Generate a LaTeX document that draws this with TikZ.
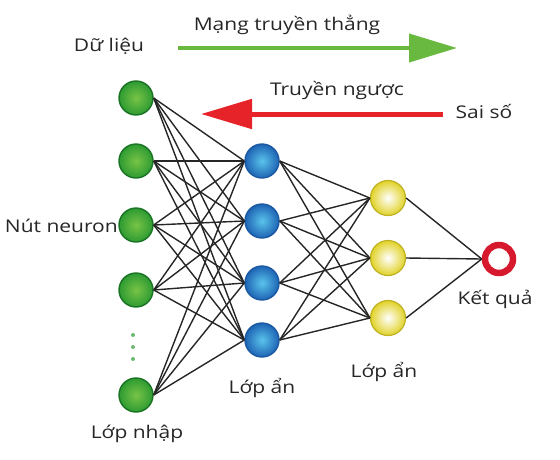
\documentclass[tikz,border=0pt]{standalone}
\usepackage{fontspec}
\setmainfont{Open Sans}[FakeStretch=1.2]
\usetikzlibrary{arrows.meta}
\definecolor{gdark}{RGB}{25,115,35}
\definecolor{gmid}{RGB}{45,155,50}
\definecolor{glight}{RGB}{120,195,70}
\definecolor{bdark}{RGB}{30,100,180}
\definecolor{blight}{RGB}{90,195,235}
\definecolor{ydark}{RGB}{225,210,40}
\definecolor{rring}{RGB}{215,25,45}
\definecolor{garrow}{RGB}{105,185,65}
\definecolor{rarrow}{RGB}{230,35,40}
\tikzset{
  inp/.style={circle,minimum size=34pt,inner sep=0pt,draw=gdark,line width=1.4pt,shading=radial,inner color=glight,outer color=gmid},
  hid/.style={circle,minimum size=34pt,inner sep=0pt,draw=bdark!90!black,line width=1.4pt,shading=radial,inner color=blight,outer color=bdark},
  hidy/.style={circle,minimum size=35pt,inner sep=0pt,draw=ydark!85!black,line width=1.2pt,shading=radial,inner color=white,outer color=ydark},
  outn/.style={circle,minimum size=28pt,inner sep=0pt,draw=rring,line width=6.5pt,fill=white},
  conn/.style={black!85,line width=1.4pt},
  lbl/.style={font=\fontsize{17.5}{20}\selectfont,inner sep=1pt,text=black!85},
  dotn/.style={circle,fill=gmid!70,inner sep=0pt,minimum size=4pt},
}
\begin{document}
\begin{tikzpicture}[x=1pt,y=-1pt]
\useasboundingbox (0,0) rectangle (560,459);
% input layer
\node[inp] (i1) at (136,98) {};
\node[inp] (i2) at (136,161) {};
\node[inp] (i3) at (136,225) {};
\node[inp] (i4) at (136,290) {};
\node[inp] (i5) at (136,395) {};
% hidden 1
\node[hid] (h1) at (262,161) {};
\node[hid] (h2) at (262,221) {};
\node[hid] (h3) at (262,283) {};
\node[hid] (h4) at (262,340) {};
% hidden 2
\node[hidy] (y1) at (388,198) {};
\node[hidy] (y2) at (388,258) {};
\node[hidy] (y3) at (388,318) {};
% output
\node[outn] (o) at (499,259) {};
% connections
\foreach \a in {i1,i2,i3,i4,i5}{
  \foreach \b in {h1,h2,h3,h4}{
    \draw[conn] (\a.east) -- (\b.west);
  }
}
\foreach \a in {h1,h2,h3,h4}{
  \foreach \b in {y1,y2,y3}{
    \draw[conn] (\a.east) -- (\b.west);
  }
}
\foreach \a in {y1,y2,y3}{
  \draw[conn] (\a.east) -- (o.west);
}
% dots
\node[dotn] (d1) at (133,335) {};
\node[dotn] (d2) at (133,347) {};
\node[dotn] (d3) at (133,359) {};
% arrows
\coordinate (gs) at (178,48);
\coordinate (ge) at (457,48);
\draw[garrow,line width=4pt,-{Triangle[length=48pt,width=28pt]}] (gs) -- (ge);
\coordinate (rs) at (443,114);
\coordinate (re) at (201,114);
\draw[rarrow,line width=5pt,-{Triangle[length=51pt,width=29pt]}] (rs) -- (re);
% labels
\node[lbl] (t1) at (109,46) {Dữ liệu};
\node[lbl] (t2) at (287,25) {Mạng truyền thẳng};
\node[lbl] (t3) at (337,90) {Truyền ngược};
\node[lbl] (t4) at (484,111) {Sai số};
\node[lbl,anchor=east] (t5) at (119,226) {Nút neuron};
\node[lbl] (t6) at (137,434) {Lớp nhập};
\node[lbl] (t7) at (262,388) {Lớp ẩn};
\node[lbl] (t8) at (384,372) {Lớp ẩn};
\node[lbl] (t9) at (495,299) {Kết quả};
\end{tikzpicture}
\end{document}
